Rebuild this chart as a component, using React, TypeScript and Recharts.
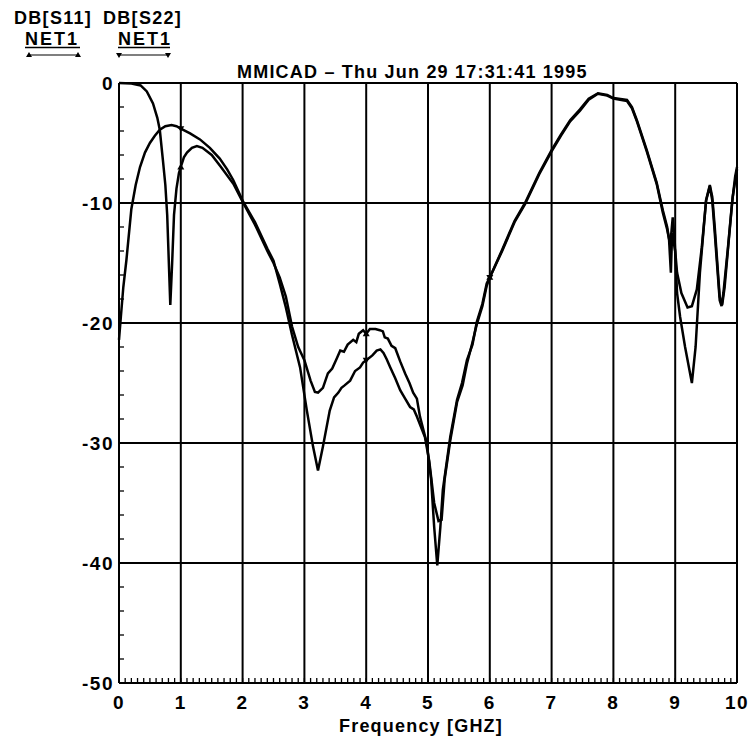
import React from "react";
import { LineChart, Line, XAxis, YAxis, CartesianGrid } from "recharts";

// S11: starts near 0 dB, deep notch just below 1 GHz
const s11Freq = [
  0, 0.2, 0.35, 0.45, 0.55, 0.62, 0.66, 0.71, 0.75, 0.78, 0.8, 0.83, 0.86, 0.89, 0.93, 0.97, 1.0,
  1.05, 1.1, 1.18, 1.26, 1.35, 1.5, 1.65, 1.85, 2.0, 2.2, 2.4, 2.5, 2.6, 2.7, 2.8, 2.9, 3.0, 3.1,
  3.17, 3.22, 3.3, 3.38, 3.45, 3.52, 3.58, 3.64, 3.7, 3.79, 3.84, 3.88, 3.95, 4.0, 4.06, 4.15, 4.22,
  4.27, 4.3, 4.35, 4.41, 4.47, 4.55, 4.63, 4.7, 4.76, 4.82, 4.87, 4.98, 5.05, 5.1, 5.15, 5.2, 5.24,
  5.36, 5.47, 5.55, 5.63, 5.72, 5.79, 5.88, 5.95, 6.0, 6.2, 6.4, 6.57, 6.8, 7.0, 7.15, 7.3, 7.46,
  7.6, 7.75, 7.9, 8.0, 8.22, 8.3, 8.38, 8.54, 8.7, 8.8, 8.87, 8.9, 8.93, 8.95, 9.0, 9.03, 9.1, 9.2,
  9.27, 9.35, 9.43, 9.5, 9.56, 9.6, 9.64, 9.72, 9.75, 9.78, 9.85, 9.92, 9.97, 10,
];
const s11Db = [
  0, -0.05, -0.2, -0.7, -1.7, -2.9, -3.9, -6.4, -8.5, -11, -14, -18.5, -15, -11, -8.8, -7.5, -7.0,
  -6.2, -5.8, -5.4, -5.25, -5.4, -6.0, -7.0, -8.4, -9.9, -11.8, -14.0, -15.0, -16.2, -17.8, -20.3, -22.0, -23.1, -24.8,
  -25.75, -25.8, -25.4, -24.2, -23.8, -23.0, -22.3, -22.4, -21.8, -21.4, -21.6, -20.9, -20.6, -20.9, -20.5, -20.5, -20.6,
  -20.7, -21.2, -21.3, -21.9, -22.1, -23.2, -24.2, -25.0, -25.8, -26.3, -27.8, -30, -33, -37, -40.2, -37, -33.9,
  -29.5, -26.4, -25.0, -23.1, -21.8, -19.9, -18.4, -16.7, -16.2, -13.9, -11.5, -10, -7.5, -5.6, -4.3, -3.1, -2.2,
  -1.3, -0.85, -1.0, -1.25, -1.4, -2.0, -3.1, -5.6, -8.3, -10.6, -12, -13, -15.8, -12.5, -14, -15.8, -17.5, -18.7,
  -18.6, -17.2, -13.7, -9.8, -8.6, -9.8, -12.5, -18.1, -18.6, -17.5, -13.9, -10, -7.8, -7.0,
];

// S22: starts near -21 dB, broad peak around 0.85 GHz
const s22Freq = [
  0, 0.03, 0.07, 0.12, 0.2, 0.27, 0.34, 0.42, 0.5, 0.58, 0.66, 0.75, 0.85, 0.93, 1.0, 1.15, 1.31,
  1.47, 1.63, 1.75, 1.85, 2.0, 2.2, 2.4, 2.5, 2.6, 2.7, 2.8, 2.93, 3.04, 3.14, 3.22, 3.3, 3.41,
  3.48, 3.55, 3.6, 3.65, 3.74, 3.82, 3.9, 3.95, 4.0, 4.1, 4.17, 4.23, 4.28, 4.33, 4.39, 4.47, 4.55,
  4.63, 4.71, 4.77, 4.82, 4.95, 5.02, 5.1, 5.17, 5.22, 5.27, 5.36, 5.47, 5.56, 5.63, 5.72, 5.79,
  5.88, 5.95, 6.0, 6.2, 6.4, 6.57, 6.8, 7.0, 7.15, 7.3, 7.46, 7.6, 7.75, 7.9, 8.0, 8.22, 8.3, 8.38,
  8.54, 8.7, 8.8, 8.87, 8.92, 8.96, 8.99, 9.03, 9.08, 9.16, 9.27, 9.33, 9.4, 9.5, 9.56, 9.6, 9.64,
  9.72, 9.76, 9.8, 9.86, 9.93, 10,
];
const s22Db = [
  -21.4, -19.5, -17, -14.75, -10.5, -8.5, -7.0, -5.8, -5.0, -4.4, -3.9, -3.6, -3.5, -3.6, -3.8, -4.2, -4.7,
  -5.4, -6.3, -7.2, -8.1, -9.8, -11.6, -13.8, -14.8, -16.7, -18.7, -21.0, -23.7, -27.3, -30.3, -32.3, -30.3, -27.3,
  -26.2, -25.8, -25.4, -25.2, -24.8, -24.0, -23.7, -23.3, -23.1, -22.7, -22.3, -22.2, -22.5, -23.0, -23.7, -24.6, -25.6,
  -26.3, -27.0, -27.2, -27.8, -29.5, -31.5, -35, -36.5, -36.4, -33, -29.8, -26.6, -25.2, -23.4, -21.6, -20.1,
  -18.6, -16.9, -16.2, -14.0, -11.6, -10.1, -7.6, -5.7, -4.4, -3.2, -2.3, -1.4, -0.9, -1.05, -1.3, -1.5, -2.1, -3.2,
  -5.7, -8.4, -10.8, -12.2, -13.5, -11.2, -13, -17.5, -19.5, -22, -25, -22, -15.8, -9.75, -8.5, -9.5, -12.0,
  -17.8, -18.5, -17, -13.5, -9.5, -7.2,
];

const xMajorTicks = [0, 1, 2, 3, 4, 5, 6, 7, 8, 9, 10];
const yMajorTicks = [0, -10, -20, -30, -40, -50];
const xMinorTicks = Array.from({ length: 101 }, (_, i) => i / 10);
const yMinorTicks = [0, -2, -4, -6, -8, -10, -12, -14, -16, -18, -20, -22, -24, -26, -28, -30, -32, -34, -36, -38, -40, -42, -44, -46, -48, -50];
const markerFreqs = [1, 4, 6];

const s11Data = s11Freq.map((f, i) => ({ f, db: s11Db[i] }));
const s22Data = s22Freq.map((f, i) => ({ f, db: s22Db[i] }));

const font = '"Liberation Sans", Arial, Helvetica, sans-serif';
const labelProps = { fill: "#000", fontSize: 19, fontWeight: 700, fontFamily: font, letterSpacing: 1.5 };

// bottom axis: minor tick every 0.1 GHz drawn inward, label on whole GHz
function XTick({ x, y, payload }: any) {
  const v = payload.value;
  const major = xMajorTicks.includes(v);
  return (
    <g>
      <line x1={x} x2={x} y1={y} y2={y - 5} stroke="#000" strokeWidth={1.3} />
      {major && (
        <text x={x} y={y + 26} textAnchor="middle" {...labelProps}>
          {v}
        </text>
      )}
    </g>
  );
}

// left axis: minor tick every 2 dB drawn inward, label every 10 dB
function YTickLeft({ x, y, payload }: any) {
  const v = payload.value;
  const major = yMajorTicks.includes(v);
  return (
    <g>
      <line x1={x} x2={x + 5} y1={y} y2={y} stroke="#000" strokeWidth={1.3} />
      {major && (
        <text x={x - 5} y={y + 7} textAnchor="end" {...labelProps}>
          {v}
        </text>
      )}
    </g>
  );
}

function YTickRight({ x, y }: any) {
  return <line x1={x} x2={x - 5} y1={y} y2={y} stroke="#000" strokeWidth={1.3} />;
}

function markerDot(up: boolean) {
  return (props: any) => {
    const { cx, cy, payload, index } = props;
    if (!markerFreqs.includes(payload.f) || cx == null) return <g key={index} />;
    const s = 3.5;
    const pts = up
      ? `${cx},${cy - s} ${cx - s},${cy + s * 0.7} ${cx + s},${cy + s * 0.7}`
      : `${cx},${cy + s} ${cx - s},${cy - s * 0.7} ${cx + s},${cy - s * 0.7}`;
    return <polygon key={index} points={pts} fill="#000" />;
  };
}

function Tri({ x, y, up }: { x: number; y: number; up: boolean }) {
  const s = 3;
  const pts = up
    ? `${x},${y - s} ${x - s},${y + s * 0.7} ${x + s},${y + s * 0.7}`
    : `${x},${y + s} ${x - s},${y - s * 0.7} ${x + s},${y - s * 0.7}`;
  return <polygon points={pts} fill="#000" />;
}

export default function App() {
  return (
    <div style={{ position: "absolute", left: 0, top: 0, width: 750, height: 742, background: "#fff" }}>
      <LineChart
        width={750}
        height={742}
        margin={{ top: 83, right: 13, bottom: 29, left: 59 }}
      >
        <CartesianGrid
          stroke="#000"
          strokeWidth={2}
          verticalValues={xMajorTicks}
          horizontalValues={yMajorTicks}
        />
        <XAxis
          dataKey="f"
          type="number"
          domain={[0, 10]}
          ticks={xMinorTicks}
          interval={0}
          tickLine={false}
          axisLine={false}
          tickSize={0}
          tickMargin={0}
          height={30}
          tick={<XTick />}
        />
        <YAxis
          type="number"
          domain={[-50, 0]}
          ticks={yMinorTicks}
          interval={0}
          tickLine={false}
          axisLine={false}
          tickSize={0}
          tickMargin={0}
          width={60}
          tick={<YTickLeft />}
        />
        <YAxis
          yAxisId="right"
          orientation="right"
          type="number"
          domain={[-50, 0]}
          ticks={yMinorTicks}
          interval={0}
          tickLine={false}
          axisLine={false}
          tickSize={0}
          tickMargin={0}
          width={0}
          tick={<YTickRight />}
        />
        <Line
          data={s11Data}
          dataKey="db"
          type="linear"
          stroke="#000"
          strokeWidth={2.5}
          dot={markerDot(true)}
          activeDot={false}
          isAnimationActive={false}
        />
        <Line
          yAxisId="right"
          data={s22Data}
          dataKey="db"
          type="linear"
          stroke="#000"
          strokeWidth={2.5}
          dot={markerDot(false)}
          activeDot={false}
          isAnimationActive={false}
        />
      </LineChart>
      <svg
        width={750}
        height={742}
        style={{ position: "absolute", left: 0, top: 0, pointerEvents: "none" }}
        fontFamily={font}
        fontWeight={700}
      >
        <text x={14} y={24} fontSize={18} letterSpacing={1.3} fill="#000">DB[S11]</text>
        <text x={103} y={24} fontSize={18} letterSpacing={1.3} fill="#000">DB[S22]</text>
        <text x={25} y={45} fontSize={18} letterSpacing={2} fill="#000">NET1</text>
        <text x={118} y={45} fontSize={18} letterSpacing={2} fill="#000">NET1</text>
        <line x1={25} x2={80} y1={47.5} y2={47.5} stroke="#000" strokeWidth={1.5} />
        <line x1={118} x2={170} y1={47.5} y2={47.5} stroke="#000" strokeWidth={1.5} />
        <line x1={29} x2={78} y1={55} y2={55} stroke="#000" strokeWidth={1.2} />
        <Tri x={29} y={55} up />
        <Tri x={78} y={55} up />
        <line x1={119} x2={168} y1={55} y2={55} stroke="#000" strokeWidth={1.2} />
        <Tri x={119} y={55} up={false} />
        <Tri x={168} y={55} up={false} />
        <text x={237} y={78} fontSize={18} letterSpacing={1.2} fill="#000">
          MMICAD – Thu Jun 29 17:31:41 1995
        </text>
        <text x={421} y={732} fontSize={18} letterSpacing={1.2} textAnchor="middle" fill="#000">
          Frequency [GHZ]
        </text>
      </svg>
    </div>
  );
}
